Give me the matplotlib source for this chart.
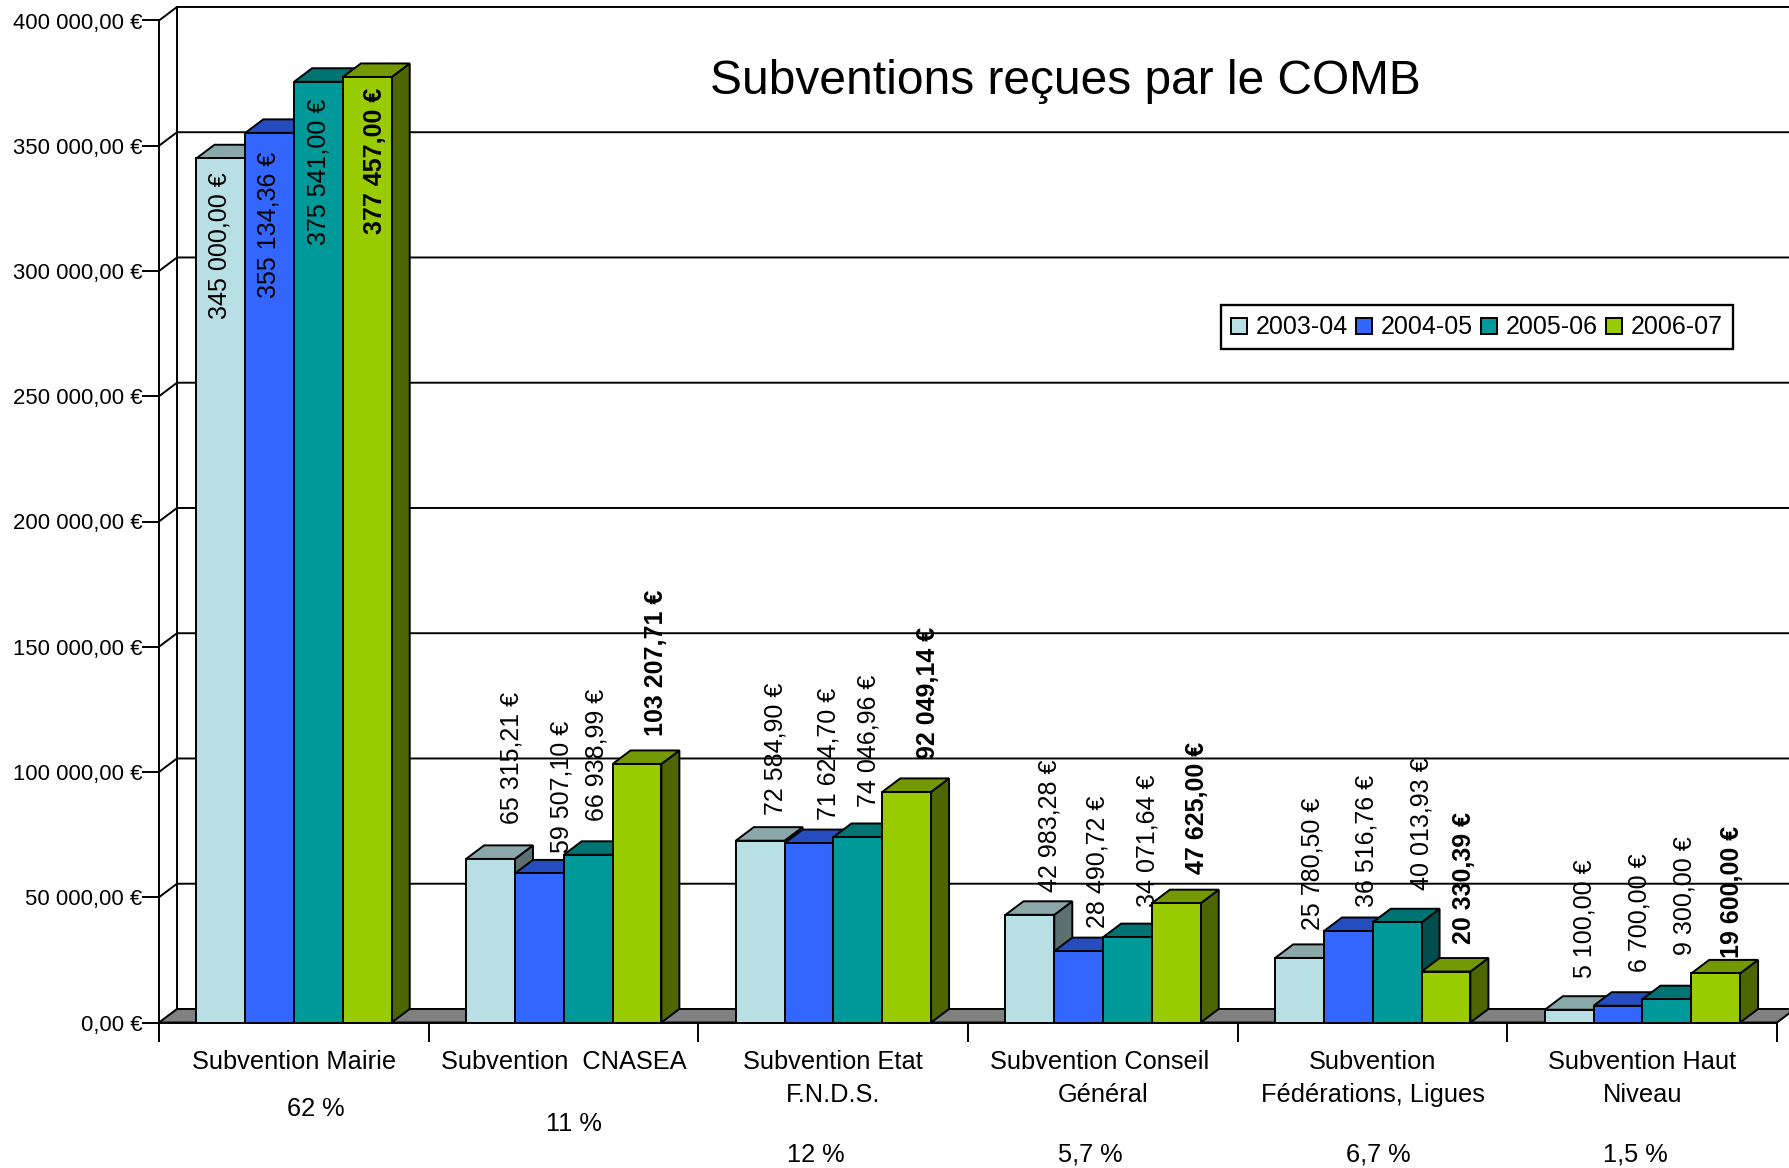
import matplotlib
matplotlib.use('Agg')
import matplotlib.pyplot as plt
from matplotlib.patches import Patch

plt.rcParams['font.family'] = ['Liberation Sans', 'DejaVu Sans']

W, H = 1789, 1168
SHRINK = 1789 / 1568

categories = ['Subvention Mairie', 'Subvention  CNASEA', 'Subvention Etat\nF.N.D.S.',
              'Subvention Conseil \nGénéral', 'Subvention\nFédérations, Ligues', 'Subvention Haut\nNiveau']
percents = ['62 %', '11 %', '12 %', '5,7 %', '6,7 %', '1,5 %']
seasons = ['2003-04', '2004-05', '2005-06', '2006-07']
v_2003 = [345000.00, 65315.21, 72584.90, 42983.28, 25780.50, 5100.00]
v_2004 = [355134.36, 59507.10, 71624.70, 28490.72, 36516.76, 6700.00]
v_2005 = [375541.00, 66938.99, 74046.96, 34071.64, 40013.93, 9300.00]
v_2006 = [377457.00, 103207.71, 92049.14, 47625.00, 20330.39, 19600.00]
series = [v_2003, v_2004, v_2005, v_2006]
colors = ['#B8DFE3', '#3366FF', '#009999', '#99CC00']
y_ticks = [0, 50000, 100000, 150000, 200000, 250000, 300000, 350000, 400000]

# positions des textes, en pixels de l'image reduite (1568 de large)
pct_x = [277, 503, 715, 956, 1208, 1433]
pct_y = [972, 985, 1012, 1012, 1012, 1012]
label_x = [[192, 448, 680, 920, 1150, 1389],
           [235, 492, 726, 962, 1198, 1437],
           [279, 523, 761, 1006, 1246, 1476],
           [329, 575, 813, 1049, 1283, 1518]]
label_bottom = [[280, 722, 714, 782, 815, 857],
                [261, 748, 719, 813, 795, 852],
                [215, 720, 707, 795, 780, 837],
                [205, 645, 665, 766, 827, 840]]


def euro(v):
    s = f'{v:,.2f}'.replace(',', ' ').replace('.', ',')
    return s + ' €'


def shade(c, k):
    rgb = matplotlib.colors.to_rgb(c)
    return tuple(k * a for a in rgb)


fig = plt.figure(figsize=(W / 100, H / 100), dpi=100)
ax = fig.add_axes([159 / W, 1 - 1022.5 / H, 1 - 159 / W, 1002 / H])
cat_w = 269.67
ax.set_xlim(0, (W - 159) / cat_w)
ax.set_ylim(0, 400000)

# profondeur 3D
dx = 18 / cat_w
dy = 5400
x_end = 6 + dx
lw = 1.4

# mur du fond et grille
ax.plot([dx, dx], [dy, 400000 + dy], color='black', lw=lw, clip_on=False, zorder=2)
for t in y_ticks[1:]:
    ax.plot([0, dx, x_end], [t, t + dy, t + dy], color='black', lw=lw, clip_on=False, zorder=2)

# sol
ax.fill([0, dx, x_end, 6], [0, dy, dy, 0], facecolor='#808080', edgecolor='black', lw=lw, zorder=3)

# barres
bar_w = 0.181
offset = 0.139
for i, vals in enumerate(series):
    for j, v in enumerate(vals):
        x0 = j + offset + i * bar_w
        x1 = x0 + bar_w
        # ordre gauche a droite: la barre suivante cache le cote de la precedente
        ax.fill([x1, x1 + dx, x1 + dx, x1], [0, dy, v + dy, v], facecolor=shade(colors[i], 0.5),
                edgecolor='black', lw=lw, zorder=4 + j * 10 + i)
        ax.fill([x0, x0 + dx, x1 + dx, x1], [v, v + dy, v + dy, v], facecolor=shade(colors[i], 0.75),
                edgecolor='black', lw=lw, zorder=4 + j * 10 + i)
        ax.bar(x0, v, bar_w, align='edge', color=colors[i], edgecolor='black', lw=lw, zorder=4 + j * 10 + i)

# axes
for s in ['top', 'right']:
    ax.spines[s].set_visible(False)
ax.spines['left'].set_linewidth(lw)
ax.spines['bottom'].set_linewidth(lw)
ax.spines['bottom'].set_bounds(0, 6)
ax.spines['bottom'].set_zorder(100)
ax.set_yticks(y_ticks)
ax.set_yticklabels([euro(t) for t in y_ticks], fontsize=15.9)
ax.tick_params(axis='y', length=12, width=lw, pad=0)
ax.set_xticks(range(7))
ax.set_xticklabels([])
ax.tick_params(axis='x', which='major', length=13.5, width=lw)
ax.set_xticks([j + 0.5 for j in range(6)], minor=True)
ax.set_xticklabels(categories, minor=True, fontsize=18.3, linespacing=1.47, va='top')
ax.tick_params(axis='x', which='minor', length=0, pad=20)

# etiquettes de valeurs
for i, vals in enumerate(series):
    for j, v in enumerate(vals):
        fig.text(label_x[i][j] * SHRINK / W, 1 - label_bottom[i][j] * SHRINK / H, euro(v), rotation=90,
                 ha='center', va='bottom', fontsize=18, color='black',
                 fontweight='bold' if i == 3 else 'normal', zorder=200)

# pourcentages
for j, p in enumerate(percents):
    fig.text(pct_x[j] * SHRINK / W, 1 - pct_y[j] * SHRINK / H, p, ha='center', va='center', fontsize=18.3)

fig.text(934 * SHRINK / W, 1 - 71 * SHRINK / H, 'Subventions reçues par le COMB',
         ha='center', va='center', fontsize=34.5)

handles = [Patch(facecolor=c, edgecolor='black', lw=lw) for c in colors]
leg = fig.legend(handles, seasons, ncols=4, fontsize=18, loc='center',
                 bbox_to_anchor=(1294.5 * SHRINK / W, 1 - 287 * SHRINK / H),
                 fancybox=False, framealpha=1, edgecolor='black',
                 handlelength=0.62, handleheight=0.62, handletextpad=0.36, columnspacing=0.34,
                 borderpad=0.4, borderaxespad=0)
leg.get_frame().set_linewidth(lw * 1.2)
leg.set_zorder(150)

fig.savefig('out.png', dpi=100)
